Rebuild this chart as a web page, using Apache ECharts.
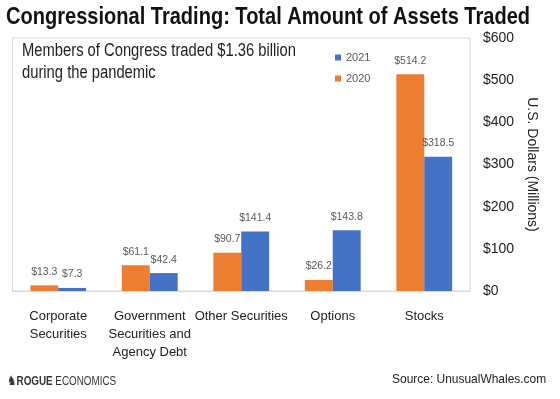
<!DOCTYPE html>
<html>
<head>
<meta charset="utf-8">
<script src="https://cdn.jsdelivr.net/npm/echarts@6/dist/echarts.min.js"></script>
<style>
  html, body { margin: 0; padding: 0; background: #fff; }
  #chart { width: 560px; height: 399px; }
</style>
</head>
<body>
<div id="chart"></div>
<script>
const categories = [
  "Corporate\nSecurities",
  "Government\nSecurities and\nAgency Debt",
  "Other Securities",
  "Options",
  "Stocks"
];
const values2020 = [13.3, 61.1, 90.7, 26.2, 514.2];
const values2021 = [7.3, 42.4, 141.4, 143.8, 318.5];
const yTicks = [0, 100, 200, 300, 400, 500, 600];

const sans = "'Liberation Sans', Arial, sans-serif";

let myChart = echarts.init(document.getElementById("chart"), null, { renderer: "canvas" });

const money = (p) => "$" + p.value.toFixed(1);

const barLabel = {
  show: true,
  position: "top",
  distance: 8,
  formatter: money,
  fontFamily: sans,
  fontSize: 10.5,
  color: "#595959"
};

let option = {
  animation: false,
  backgroundColor: "#fff",
  legend: {
    data: ["2021", "2020"],
    orient: "vertical",
    left: 330,
    top: 47,
    icon: "rect",
    itemWidth: 6,
    itemHeight: 6,
    itemGap: 10,
    textStyle: { fontFamily: sans, fontSize: 11, color: "#595959" }
  },
  grid: {
    left: 12.5,
    right: 90,
    top: 38,
    bottom: 108,
    show: true,
    borderColor: "#d9d9d9",
    borderWidth: 1
  },
  xAxis: {
    type: "category",
    data: categories,
    axisLine: { lineStyle: { color: "#d9d9d9" } },
    axisTick: { show: false },
    axisLabel: {
      interval: 0,
      margin: 16,
      fontFamily: sans,
      fontSize: 13,
      lineHeight: 18,
      color: "#222"
    }
  },
  yAxis: {
    type: "value",
    position: "right",
    min: 0,
    max: 600,
    interval: 100,
    splitLine: { show: false },
    axisLine: { show: false },
    axisTick: { show: false },
    axisLabel: {
      margin: 13,
      fontFamily: sans,
      fontSize: 14,
      color: "#222",
      formatter: (v) => (yTicks.includes(v) ? "$" + v : "")
    },
    name: "U.S. Dollars (Millions)",
    nameLocation: "middle",
    nameRotate: -90,
    nameGap: 55,
    nameMoveOverlap: false,
    nameTextStyle: { fontFamily: sans, fontSize: 14, color: "#222" }
  },
  series: [
    {
      name: "2020",
      type: "bar",
      data: values2020,
      barGap: "0%",
      barCategoryGap: "39%",
      itemStyle: { color: "#ED7D31" },
      label: barLabel
    },
    {
      name: "2021",
      type: "bar",
      data: values2021,
      itemStyle: { color: "#4472C4" },
      label: barLabel
    }
  ],
  graphic: [
    {
      type: "text",
      x: 6,
      y: 5,
      scaleX: 0.835,
      style: {
        text: "Congressional Trading: Total Amount of Assets Traded",
        font: "bold 24px " + sans,
        fill: "#111"
      }
    },
    {
      type: "text",
      x: 22,
      y: 40,
      scaleX: 0.82,
      style: {
        text: "Members of Congress traded $1.36 billion\nduring the pandemic",
        font: "18px " + sans,
        lineHeight: 22,
        fill: "#222"
      }
    },
    {
      type: "text",
      x: 7,
      y: 375,
      scaleX: 0.82,
      style: {
        text: "{i|\u265E}{b|ROGUE} {r|ECONOMICS}",
        rich: {
          i: { fontFamily: "DejaVu Sans", fontSize: 13, fill: "#333" },
          b: { fontFamily: sans, fontWeight: "bold", fontSize: 12, fill: "#333" },
          r: { fontFamily: sans, fontSize: 12, fill: "#333" }
        }
      }
    },
    {
      type: "text",
      x: 392,
      y: 373,
      scaleX: 0.92,
      style: {
        text: "Source: UnusualWhales.com",
        font: "13px " + sans,
        fill: "#222"
      }
    }
  ]
};

myChart.setOption(option);
window.addEventListener("resize", myChart.resize);
</script>
</body>
</html>
